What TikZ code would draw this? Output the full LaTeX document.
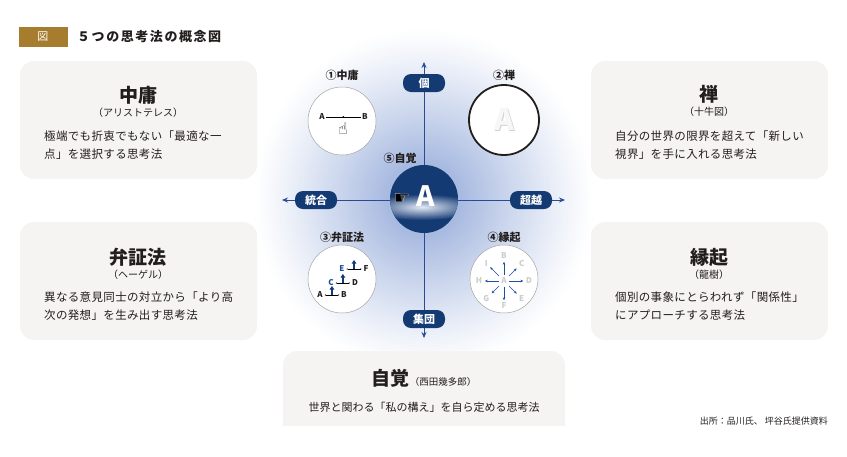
\documentclass[tikz,border=0pt]{standalone}
\usepackage{fontspec}
\usepackage{xcolor}
\usepackage{tikz}
\usetikzlibrary{arrows.meta,positioning}
\setmainfont{Noto Sans CJK JP}
\newfontfamily\symfont{DejaVu Sans}
\definecolor{navy}{RGB}{20,58,115}
\definecolor{axisblue}{RGB}{40,75,145}
\definecolor{glowblue}{RGB}{160,180,222}
\definecolor{boxgray}{RGB}{245,244,242}
\definecolor{gold}{RGB}{166,124,46}
\definecolor{ink}{RGB}{35,30,30}
\definecolor{letterblue}{RGB}{30,80,160}

\begin{document}
\begin{tikzpicture}[x=1pt, y=-1pt, every node/.style={inner sep=0pt, text=ink},
  card/.style={fill=boxgray, rounded corners=14pt},
  cardtitle/.style={font=\bfseries\fontsize{19}{19}\selectfont},
  cardsub/.style={font=\fontsize{10}{10}\selectfont},
  cardtext/.style={anchor=west, align=left, font=\fontsize{11.5}{17.5}\selectfont\addfontfeatures{LetterSpace=3}},
  pill/.style={fill=navy, rounded corners=8pt, minimum width=42pt, minimum height=18pt, text=white, font=\bfseries\fontsize{11}{11}\selectfont},
  ring/.style={circle, draw=gray!70, fill=white, line width=0.5pt, minimum size=68pt},
  ringlabel/.style={font=\bfseries\fontsize{11}{11}\selectfont},
  axis/.style={draw=axisblue, line width=0.7pt, {Stealth[length=6pt,width=5pt]}-{Stealth[length=6pt,width=5pt]}},
  letter/.style={inner sep=1.5pt, font=\bfseries\fontsize{8}{8}\selectfont},
  faint/.style={letter, text=gray!40},
  tinyline/.style={line width=0.4pt, {Latex[length=1.5pt]}-{Latex[length=1.5pt]}},
  uparrow/.style={draw=navy, line width=1.4pt, -{Triangle[length=3.5pt,width=4.5pt]}},
  rayarrow/.style={draw=letterblue, line width=0.5pt, -{Stealth[length=3pt,width=2.5pt]}, shorten <=1pt, shorten >=1pt}]
  \useasboundingbox (0,0) rectangle (847,456);
  \foreach \r in {172,169,...,34} {
    \pgfmathsetmacro\p{95*((172-\r)/138)^1.15}
    \fill[glowblue!\p!white] (424,199) circle (\r);
  }

  \node[fill=gold, minimum width=49pt, minimum height=20pt, text=white, font=\fontsize{11}{11}\selectfont] (tag) at (43,37) {図};
  \node[anchor=west, font=\bfseries\fontsize{13}{13}\selectfont\addfontfeatures{LetterSpace=12}] (heading) at (77,37) {５つの思考法の概念図};

  \fill[card] (20,61) rectangle (257,179);
  \node[cardtitle] (t1) at (138,95) {中庸};
  \node[cardsub] (s1) at (138,113) {（アリストテレス）};
  \node[cardtext] (b1) at (44,145) {極端でも折衷でもない「最適な一\\点」を選択する思考法};

  \fill[card] (591,61) rectangle (828,179);
  \node[cardtitle] (t2) at (709,94) {禅};
  \node[cardsub] (s2) at (709,112) {（十牛図）};
  \node[cardtext] (b2) at (615,145) {自分の世界の限界を超えて「新しい\\視界」を手に入れる思考法};

  \fill[card] (20,222) rectangle (257,340);
  \node[cardtitle] (t3) at (138,257) {弁証法};
  \node[cardsub] (s3) at (138,275) {（ヘーゲル）};
  \node[cardtext] (b3) at (44,306) {異なる意見同士の対立から「より高\\次の発想」を生み出す思考法};

  \fill[card] (591,222) rectangle (828,340);
  \node[cardtitle] (t4) at (709,257) {縁起};
  \node[cardsub] (s4) at (709,275) {（龍樹）};
  \node[cardtext] (b4) at (615,306) {個別の事象にとらわれず「関係性」\\にアプローチする思考法};

  \begin{scope}
    \clip (0,0) rectangle (847,425);
    \fill[card] (283,351) rectangle (565,470);
  \end{scope}
  \node (t5) at (424,378) {{\bfseries\fontsize{19}{19}\selectfont 自覚}{\fontsize{9.5}{9.5}\selectfont （西田幾多郎）}};
  \node[font=\fontsize{11}{11}\selectfont] (b5) at (424,407) {世界と関わる「私の構え」を自ら定める思考法};
  \node[anchor=east, font=\fontsize{9}{9}\selectfont] (source) at (828,421) {出所：品川氏、 坪谷氏提供資料};

  \coordinate (top) at (424,62);
  \coordinate (bottom) at (424,338);
  \coordinate (left) at (282,200);
  \coordinate (right) at (565,200);
  \draw[axis] (top) -- (bottom);
  \draw[axis] (left) -- (right);

  \node[circle, fill=navy, minimum size=68pt] (self) at (424,199) {};
  \begin{scope}
    \clip (424,199) circle (34);
    \shade[inner color=white!70!glowblue, outer color=navy] (422,207) ellipse [x radius=58, y radius=13];
  \end{scope}
  \node[font=\bfseries\fontsize{28}{28}\selectfont, text=white] (selfA) at (426,196) {A};
  \node[font=\symfont\fontsize{19}{19}\selectfont, text=black] (hand) at (402,199) {☛};
  \node[font=\symfont\fontsize{19}{19}\selectfont, text=white] (handline) at (402,199) {☞};
  \node[ringlabel] (l5) at (400,158) {⑤自覚};

  \node[pill] (individual) at (424,83) {個};
  \node[pill] (group) at (424,319) {集団};
  \node[pill] (integrate) at (316,200) {統合};
  \node[pill] (transcend) at (531,200) {超越};

  \node[ring] (r1) at (342,121) {};
  \node[ringlabel] (l1) at (342,75) {①中庸};
  \node[letter] (ma) at (322,117) {A};
  \node[letter] (mb) at (365,117) {B};
  \draw[line width=0.4pt] (ma) -- (mb) coordinate[midway] (mm);
  \fill (mm) circle (1);
  \node[font=\symfont\fontsize{16}{16}\selectfont] (pointer) at (343,129) {☝};

  \node[ring, draw=ink, line width=1.8pt, minimum size=70pt] (r2) at (504,120) {};
  \node[ringlabel] (l2) at (504,75) {②禅};
  \node[font=\bfseries\fontsize{30}{30}\selectfont, text=gray!35] (zshadow) at (505.5,120.5) {A};
  \node[font=\bfseries\fontsize{30}{30}\selectfont, text=gray!6] (zA) at (504,119) {A};

  \node[ring] (r3) at (342,279) {};
  \node[ringlabel] (l3) at (342,237) {③弁証法};
  \node[letter] (da) at (320,295) {A};
  \node[letter] (db) at (344,295) {B};
  \node[letter, text=letterblue] (dc) at (331,283) {C};
  \node[letter] (dd) at (355,283) {D};
  \node[letter, text=letterblue] (de) at (342,269) {E};
  \node[letter] (df) at (366,269) {F};
  \draw[tinyline] (da) -- (db) coordinate[midway] (d1);
  \draw[tinyline] (dc) -- (dd) coordinate[midway] (d2);
  \draw[tinyline] (de) -- (df) coordinate[midway] (d3);
  \foreach \m in {d1,d2,d3}
    \draw[uparrow] (\m) -- ++(0,-9);

  \node[ring] (r4) at (504,279) {};
  \node[ringlabel] (l4) at (504,237) {④縁起};
  \node[faint] (ea) at (504,281) {A};
  \foreach \ang/\name in {270/B,315/C,0/D,45/E,90/F,135/G,180/H,225/I} {
    \node[faint] (e\name) at ([shift={(\ang:25)}]ea) {\name};
    \draw[rayarrow] (ea) -- (e\name);
  }
\end{tikzpicture}
\end{document}
